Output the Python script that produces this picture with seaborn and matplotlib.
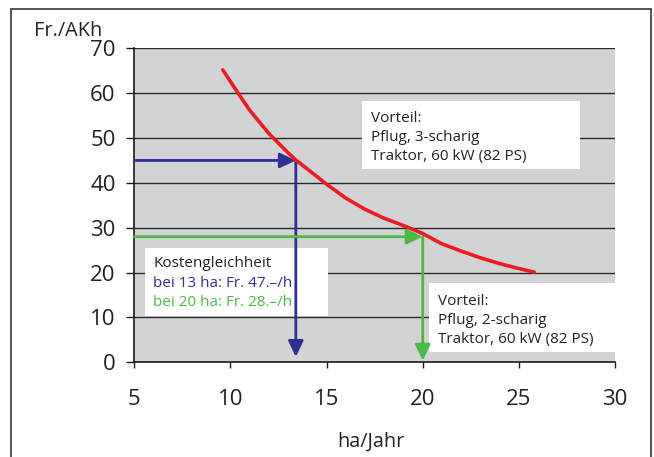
import matplotlib
matplotlib.use("Agg")
import matplotlib.pyplot as plt
import seaborn as sns
import pandas as pd
from matplotlib.patches import Rectangle

# ---- data ----
ha_per_year = [9.6, 10.4, 11, 12, 13, 13.4, 14, 15, 16, 17, 18, 19, 20, 21, 22, 23, 24, 25, 25.8]
cost_fr_akh = [65.2, 60.0, 56.2, 51.0, 46.7, 45.1, 43.1, 39.7, 36.6, 34.1, 32.1, 30.5, 28.7, 26.4, 24.8, 23.3, 22.0, 20.9, 20.1]
blue_point = (13.4, 45)
green_point = (20.0, 28)
x_ticks = [5, 10, 15, 20, 25, 30]
y_ticks = [0, 10, 20, 30, 40, 50, 60, 70]
box_topright = ["Vorteil:", "Pflug, 3-scharig", "Traktor, 60 kW (82 PS)"]
box_left = ["Kostengleichheit", "bei 13 ha: Fr. 47.–/h", "bei 20 ha: Fr. 28.–/h"]
box_bottomright = ["Vorteil:", "Pflug, 2-scharig", "Traktor, 60 kW (82 PS)"]

RED = "#ED1C24"
BLUE = "#2E3192"
GREEN = "#4DB848"
BG = "#D1D3D4"

sns.set_style("white", {"axes.facecolor": BG})
plt.rcParams["font.family"] = ["Open Sans", "DejaVu Sans"]

W, H = 654, 457
fig = plt.figure(figsize=(W / 100, H / 100), dpi=100)
ax = fig.add_axes([134.3 / W, 1 - 362.3 / H, (615 - 134.3) / W, (362.3 - 48.3) / H])
ax.set_facecolor(BG)

df = pd.DataFrame({"x": ha_per_year, "y": cost_fr_akh})

# grid
for yv in y_ticks[1:]:
    ax.axhline(yv, color="#2a2a2a", lw=1.0, zorder=1)

sns.lineplot(data=df, x="x", y="y", color=RED, lw=2.6, ax=ax, zorder=5, sort=False)

ax.set_xlim(5, 30)
ax.set_ylim(0, 70)
ax.set_xticks(x_ticks)
ax.set_yticks(y_ticks)
ax.set_xlabel("")
ax.set_ylabel("")
for s in ["top", "right"]:
    ax.spines[s].set_visible(False)
for s in ["left", "bottom"]:
    ax.spines[s].set_color("#1a1a1a")
    ax.spines[s].set_linewidth(1.2)
ax.tick_params(axis="x", direction="out", length=4.5, width=1, color="#1a1a1a",
               pad=15, labelsize=16, labelcolor="#222222", bottom=True)
ax.tick_params(axis="y", direction="out", length=5.5, width=1, color="#1a1a1a",
               pad=8, labelsize=16, labelcolor="#222222", left=True)

# arrows
def arrow(x0, y0, x1, y1, c):
    ax.annotate("", xy=(x1, y1), xytext=(x0, y0),
                arrowprops=dict(arrowstyle="-|>,head_length=0.8,head_width=0.38",
                                color=c, lw=2, shrinkA=0, shrinkB=0,
                                mutation_scale=12),
                zorder=4)

bx, by = blue_point
gx, gy = green_point
arrow(5, by, bx, by, BLUE)
arrow(bx, by, bx, 1.2, BLUE)
arrow(5, gy, gx, gy, GREEN)
arrow(gx, gy, gx, 0.35, GREEN)

# boxes
def box(x0, y0, x1, y1):
    ax.add_patch(Rectangle((x0, y0), x1 - x0, y1 - y0, facecolor="white",
                           edgecolor="none", zorder=3.5, clip_on=False))

box(16.84, 43.1, 28.2, 58.2)
for t, yb in zip(box_topright, [53.6, 49.4, 45.2]):
    ax.text(17.3, yb, t, fontsize=11, color="#222222", va="baseline", zorder=6)

box(5.56, 10.4, 15.07, 25.4)
for t, yb, c in zip(box_left, [21.2, 16.7, 12.5], ["#222222", BLUE, GREEN]):
    ax.text(5.99, yb, t, fontsize=11, color=c, va="baseline", zorder=6)

box(20.31, 2.36, 30.05, 17.6)
for t, yb in zip(box_bottomright, [12.8, 8.5, 4.3]):
    ax.text(20.77, yb, t, fontsize=11, color="#222222", va="baseline", zorder=6)

# axis titles
fig.text(34 / W, 1 - 36 / H, "Fr./AKh", fontsize=14.3, color="#222222", va="baseline")
fig.text(371 / W, 1 - 447 / H, "ha/Jahr", fontsize=14.3, color="#222222", va="baseline", ha="center")

# outer frame
fig.patches.append(Rectangle((11 / W, -0.05), (651 - 11) / W, 1 - 9 / H + 0.05,
                             transform=fig.transFigure, fill=False,
                             edgecolor="#444444", lw=1.3))

fig.savefig("out.png", dpi=100)
